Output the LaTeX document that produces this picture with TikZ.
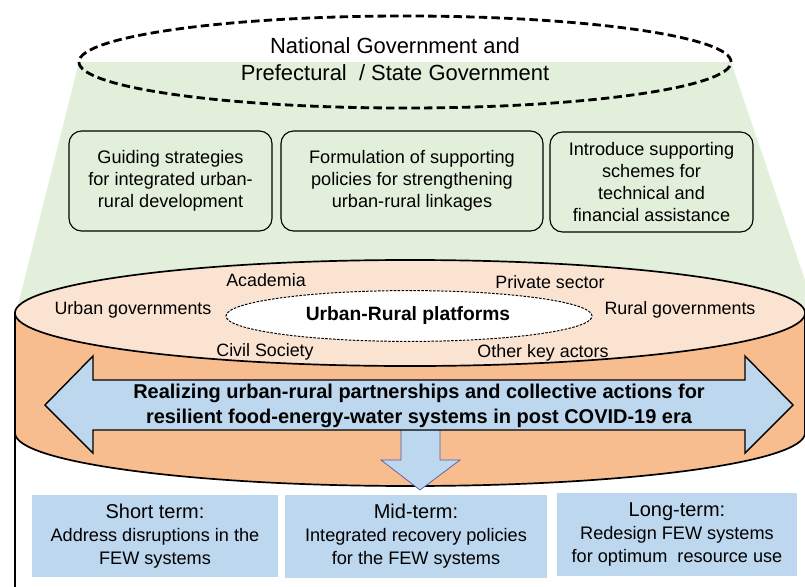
\documentclass[tikz,border=0pt]{standalone}
\usepackage{fontspec}
\setmainfont{Liberation Sans}
\usepackage{tikz}
\usetikzlibrary{positioning, shapes.geometric}

\definecolor{bggreen}{HTML}{E2EFDA}
\definecolor{peach}{HTML}{FBE3D2}
\definecolor{orangebody}{HTML}{F7BD8F}
\definecolor{lightblue}{HTML}{BDD7EE}

\begin{document}
\begin{tikzpicture}[
    x=0.025cm, y=-0.025cm,
    govbox/.style={rectangle, draw, rounded corners=9pt, line width=0.8pt, fill=bggreen, align=center, inner sep=0pt, minimum height=2.5cm, font=\fontsize{12.9}{15.6}\selectfont},
    termbox/.style={rectangle, fill=lightblue, align=center, inner sep=0pt, minimum height=2.05cm, font=\fontsize{12.9}{16.4}\selectfont},
    actor/.style={font=\fontsize{12.7}{15}\selectfont, inner sep=0pt},
    bigarrow/.style={fill=lightblue, draw, line width=1pt, line join=miter},
    downarrow/.style={fill=lightblue, draw=gray!70!blue, line width=0.5pt},
]

\useasboundingbox (0,0) rectangle (805,587);

% government layer
\fill[bggreen] (79,62) -- (731,62) -- (805,280) -- (805,313) -- (16,313) -- cycle;
\node[ellipse, draw, line width=2pt, dash pattern=on 6pt off 3pt, minimum width=16.3cm, minimum height=2.3cm] (govring) at (405,62) {};
\node[font=\fontsize{15.6}{19.2}\selectfont, align=center] (govtitle) at (395,59) {National Government and\\Prefectural\ \ / State Government};

\node[govbox, minimum width=5.075cm] (strategy) at (170.5,181) {Guiding strategies\\for integrated urban-\\rural development};
\node[govbox, minimum width=6.55cm] (policy) at (412,181) {Formulation of supporting\\policies for strengthening\\urban-rural linkages};
\node[govbox, minimum width=5.075cm] (scheme) at (651.5,182) {Introduce supporting\\schemes for\\technical and\\financial assistance};

% platform cylinder
\draw[line width=1pt] (15,313) -- (15,587);
\draw[fill=orangebody, line width=1.2pt] (15,313) -- (15,433) arc[start angle=180, end angle=0, x radius=395, y radius=53] -- (805,313) -- cycle;
\node[ellipse, draw, fill=peach, line width=1.2pt, minimum width=19.75cm, minimum height=2.65cm] (platformtop) at (410,313) {};
\node[ellipse, draw, fill=white, line width=0.7pt, dash pattern=on 1.8pt off 1pt, minimum width=9.15cm, minimum height=1.27cm] (platformcore) at (409,316) {};
\node[font=\bfseries\fontsize{13.7}{16}\selectfont] (platformname) at (408,316) {Urban-Rural platforms};

\node[actor] (academia) at (266,280) {Academia};
\node[actor] (private) at (550,282) {Private sector};
\node[actor] (urbangov) at (133,310) {Urban governments};
\node[actor] (ruralgov) at (680,310) {Rural governments};
\node[actor] (civil) at (265,352) {Civil Society};
\node[actor] (others) at (543,353) {Other key actors};

\draw[downarrow] (401,428) -- (440,428) -- (440,460) -- (460,460) -- (420,490) -- (381,460) -- (401,460) -- cycle;
\draw[bigarrow] (45,405) -- (93,356) -- (93,380) -- (745,380) -- (745,356) -- (793,405) -- (745,453) -- (745,430) -- (93,430) -- (93,453) -- cycle;
\node[font=\bfseries\fontsize{14.2}{17.8}\selectfont, align=center] (goal) at (419,405.5) {Realizing urban-rural partnerships and collective actions for\\resilient food-energy-water systems in post COVID-19 era};

% time horizons
\node[termbox, minimum width=6.15cm] (shortterm) at (155,536) {{\fontsize{14.2}{16.4}\selectfont Short term:}\\Address disruptions in the\\FEW systems};
\node[termbox, minimum width=6.55cm] (midterm) at (416,536.5) {{\fontsize{14.2}{16.4}\selectfont Mid-term:}\\Integrated recovery policies\\for the FEW systems};
\node[termbox, minimum width=6cm, minimum height=2.075cm] (longterm) at (677,534.5) {{\fontsize{14.2}{16.4}\selectfont Long-term:}\\Redesign FEW systems\\for optimum\ \ resource use};

\end{tikzpicture}
\end{document}
